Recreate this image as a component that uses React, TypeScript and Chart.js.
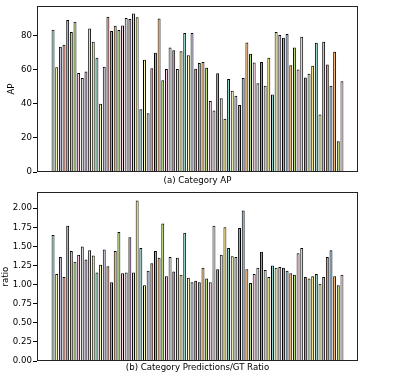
import React, { useEffect, useRef } from "react";
import { Chart, registerables } from "chart.js";

Chart.register(...registerables);

const CATEGORIES = [
  "person", "bicycle", "car", "motorcycle", "airplane", "bus", "train", "truck", "boat", "traffic light",
  "fire hydrant", "stop sign", "parking meter", "bench", "bird", "cat", "dog", "horse", "sheep", "cow",
  "elephant", "bear", "zebra", "giraffe", "backpack", "umbrella", "handbag", "tie", "suitcase", "frisbee",
  "skis", "snowboard", "sports ball", "kite", "baseball bat", "baseball glove", "skateboard", "surfboard", "tennis racket", "bottle",
  "wine glass", "cup", "fork", "knife", "spoon", "bowl", "banana", "apple", "sandwich", "orange",
  "broccoli", "carrot", "hot dog", "pizza", "donut", "cake", "chair", "couch", "potted plant", "bed",
  "dining table", "toilet", "tv", "laptop", "mouse", "remote", "keyboard", "cell phone", "microwave", "oven",
  "toaster", "sink", "refrigerator", "book", "clock", "vase", "scissors", "teddy bear", "hair drier", "toothbrush",
];

const AP_VALUES = [
  83.5, 61.4, 73.5, 74.6, 89.2, 82.1, 88.2, 58.1, 55.1, 58.9,
  84.2, 76.4, 67.1, 40.1, 61.8, 91.1, 82.7, 85.8, 83.3, 85.9,
  90.4, 89.8, 93.0, 90.8, 36.8, 65.8, 34.5, 60.8, 70.0, 90.0,
  53.9, 60.4, 73.1, 71.4, 60.4, 70.8, 81.5, 68.5, 81.5, 60.6,
  63.9, 64.5, 61.2, 41.6, 36.1, 58.0, 43.3, 31.3, 54.5, 47.6,
  44.7, 39.3, 55.1, 76.0, 69.4, 64.3, 52.0, 64.6, 50.6, 67.1,
  45.5, 82.1, 80.4, 78.8, 81.0, 62.7, 73.1, 60.2, 79.4, 55.4,
  57.6, 62.3, 75.8, 33.8, 76.4, 63.1, 50.6, 70.6, 18.0, 53.3,
];

const RATIO_VALUES = [
  1.65, 1.14, 1.36, 1.10, 1.77, 1.44, 1.30, 1.39, 1.50, 1.33,
  1.45, 1.38, 1.16, 1.26, 1.46, 1.24, 1.03, 1.44, 1.69, 1.15,
  1.16, 1.62, 1.16, 2.10, 1.48, 0.99, 1.18, 1.28, 1.44, 1.35,
  1.80, 1.11, 1.36, 1.17, 1.35, 1.13, 1.68, 1.09, 1.03, 1.05,
  1.03, 1.22, 1.08, 1.03, 1.77, 1.20, 1.39, 1.75, 1.48, 1.37,
  1.36, 1.74, 1.97, 1.20, 1.02, 1.14, 1.22, 1.43, 1.19, 1.10,
  1.25, 1.22, 1.23, 1.22, 1.18, 1.15, 1.13, 1.41, 1.48, 1.10,
  1.08, 1.11, 1.14, 1.01, 1.10, 1.36, 1.45, 1.11, 0.99, 1.13,
];

const AP_TICKS = [0, 20, 40, 60, 80];
const RATIO_TICKS = [0, 0.25, 0.5, 0.75, 1.0, 1.25, 1.5, 1.75, 2.0];

const SET3 = [
  "#8dd3c7", "#ffffb3", "#bebada", "#fb8072", "#80b1d3", "#fdb462",
  "#b3de69", "#fccde5", "#d9d9d9", "#bc80bd", "#ccebc5", "#ffed6f",
];

const FONT = '"DejaVu Sans", sans-serif';
const W = 394;
const AREA_LEFT = 37;
const AREA_RIGHT = 358;

const decor = {
  id: "decor",
  afterDraw(chart: any, _args: any, opts: any) {
    const { ctx, chartArea: a } = chart;
    ctx.save();
    ctx.strokeStyle = "#222";
    ctx.lineWidth = 1;
    ctx.strokeRect(
      Math.round(a.left) + 0.5,
      Math.round(a.top) + 0.5,
      Math.round(a.right - a.left) - 1,
      Math.round(a.bottom - a.top) - 1
    );
    ctx.fillStyle = "#000";
    ctx.font = `8.6px ${FONT}`;
    ctx.textAlign = "center";
    ctx.textBaseline = "middle";
    ctx.fillText(opts.title, (a.left + a.right) / 2, opts.titleY);
    ctx.translate(opts.yLabelX, (a.top + a.bottom) / 2);
    ctx.rotate(-Math.PI / 2);
    ctx.fillText(opts.yLabel, 0, 0);
    ctx.restore();
  },
};

function makeConfig(
  values: number[],
  ticks: number[],
  yMax: number,
  yLabel: string,
  title: string,
  fmt: (v: number) => string,
  areaTop: number,
  areaBottom: number,
  canvasH: number,
  titleY: number,
  yLabelX: number
): any {
  const n = values.length;
  const span = n - 1 + 0.8;
  const margin = span * 0.05;
  return {
    type: "bar",
    data: {
      labels: CATEGORIES,
      datasets: [
        {
          data: values.map((v, i) => ({ x: i, y: v })),
          backgroundColor: values.map((_, i) => SET3[i % SET3.length]),
          borderColor: "#000",
          borderWidth: 1,
          categoryPercentage: 1,
          barPercentage: 0.8,
        },
      ],
    },
    options: {
      responsive: false,
      animation: false,
      devicePixelRatio: 1,
      layout: { padding: { top: areaTop, right: W - AREA_RIGHT, left: 0, bottom: 0 } },
      plugins: {
        legend: { display: false },
        tooltip: { enabled: false },
        decor: { title, yLabel, titleY, yLabelX },
      },
      scales: {
        x: {
          type: "linear",
          offset: false,
          min: -0.4 - margin,
          max: n - 1 + 0.4 + margin,
          ticks: { display: false },
          grid: { display: false },
          border: { display: false },
          afterFit: (s: any) => {
            s.height = canvasH - areaBottom;
          },
        },
        y: {
          min: 0,
          max: yMax,
          afterBuildTicks: (s: any) => {
            s.ticks = ticks.map((v) => ({ value: v }));
          },
          ticks: {
            callback: (v: any) => fmt(Number(v)),
            color: "#000",
            font: { family: FONT, size: 8.6 },
            padding: 1,
          },
          grid: { drawOnChartArea: false, drawTicks: true, tickLength: 4, color: "#000" },
          border: { display: false },
          afterFit: (s: any) => {
            s.width = AREA_LEFT;
          },
        },
      },
    },
    plugins: [decor],
  };
}

export default function App() {
  const refA = useRef<HTMLCanvasElement>(null);
  const refB = useRef<HTMLCanvasElement>(null);

  useEffect(() => {
    const hA = 186;
    const hB = 189;
    const a = new Chart(
      refA.current as HTMLCanvasElement,
      makeConfig(AP_VALUES, AP_TICKS, 97.3, "AP", "(a) Category AP", (v) => String(v), 3, 172, hA, 181, 12)
    );
    const b = new Chart(
      refB.current as HTMLCanvasElement,
      makeConfig(
        RATIO_VALUES,
        RATIO_TICKS,
        2.21,
        "ratio",
        "(b) Category Predictions/GT Ratio",
        (v) => v.toFixed(2),
        5,
        175,
        hB,
        182,
        6
      )
    );
    return () => {
      a.destroy();
      b.destroy();
    };
  }, []);

  return (
    <div style={{ position: "absolute", left: 0, top: 0, width: W, height: 375, background: "#fff" }}>
      <canvas ref={refA} width={W} height={186} style={{ position: "absolute", left: 0, top: 0, display: "block" }} />
      <canvas ref={refB} width={W} height={189} style={{ position: "absolute", left: 0, top: 186, display: "block" }} />
    </div>
  );
}
